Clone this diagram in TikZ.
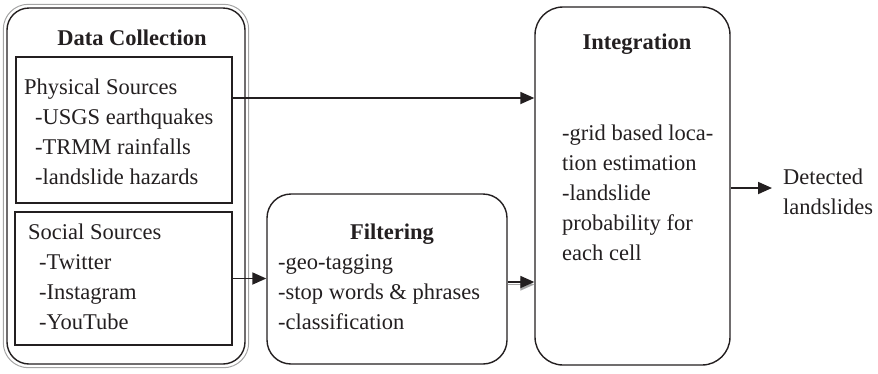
\documentclass[tikz,border=0pt]{standalone}
\usepackage{fontspec}
\setmainfont{Liberation Serif}
\usetikzlibrary{arrows.meta,positioning}
\definecolor{lineBlack}{RGB}{35,31,32}
\definecolor{shadeGray}{RGB}{165,165,165}

\begin{document}
\begin{tikzpicture}[
  x=1pt, y=-1pt,
  every node/.style={font=\fontsize{22.5}{30}\selectfont, text=lineBlack},
  srcbox/.style={rectangle, draw=lineBlack, line width=1.4pt, inner sep=0pt},
  stagebox/.style={rectangle, rounded corners=#1, draw=lineBlack,
                   line width=1.4pt, inner sep=0pt},
  stagebox/.default=24pt,
  ttl/.style={font=\fontsize{22.5}{30}\selectfont\bfseries,
              inner sep=0pt, anchor=base},
  body/.style={align=left, inner sep=0pt, anchor=base west},
  arr/.style={-{Triangle[length=14pt,width=12pt]}, line width=1.8pt, lineBlack}
]
  \useasboundingbox (0,0) rectangle (878,373);
  % data collection
  \node[stagebox=22pt, minimum width=238pt, minimum height=356pt] (dc) at (126,186) {};
  \draw[shadeGray, line width=1pt, rounded corners=25pt]
    ([shift={(-3pt,3pt)}]dc.north west) rectangle ([shift={(3pt,-3pt)}]dc.south east);
  \node[ttl] (dcTitle) at (132,45) {Data Collection};
  \node[srcbox, minimum width=216pt, minimum height=146pt] (phys) at (124,130) {};
  % body nodes sit on the baseline of their last line
  \node[body] (physText) at (24,184) {Physical Sources\\
    \hspace*{11pt}-USGS earthquakes\\
    \hspace*{11pt}-TRMM rainfalls\\
    \hspace*{11pt}-landslide hazards};
  \node[srcbox, minimum width=217pt, minimum height=133pt] (soc) at (123.5,278.5) {};
  \node[body] (socText) at (28,329) {Social Sources\\
    \hspace*{11pt}-Twitter\\
    \hspace*{11pt}-Instagram\\
    \hspace*{11pt}-YouTube};
  % filtering
  \node[stagebox, minimum width=240pt, minimum height=170pt] (filt) at (387,279) {};
  \node[ttl] (filtTitle) at (392,239) {Filtering};
  \node[body] (filtText) at (278,329) {-geo-tagging\\
    -stop words \& phrases\\
    -classification};
  % integration
  \node[stagebox=28pt, minimum width=195pt, minimum height=358pt] (integ) at (632.5,186) {};
  \node[ttl] (integTitle) at (637,49) {Integration};
  \node[body] (integText) at (562,260) {-grid based loca-\\
    tion estimation\\
    -landslide\\
    probability for\\
    each cell};
  \node[body] (out) at (783,214) {Detected\\landslides};
  % connectors
  \draw[arr] ([yshift=32pt]phys.east) -- ([yshift=32pt]phys.east -| integ.west);
  \draw[arr] (soc.east) -- (soc.east -| filt.west);
  \draw[arr, preaction={draw=shadeGray, line width=1.4pt,
        transform canvas={yshift=-2.5pt}}]
    ([yshift=-3pt]filt.east) -- ([yshift=-3pt]filt.east -| integ.west);
  \draw[arr] ([yshift=-2pt]integ.east) -- ([xshift=-11pt,yshift=-2pt]integ.east -| out.west);
\end{tikzpicture}
\end{document}
